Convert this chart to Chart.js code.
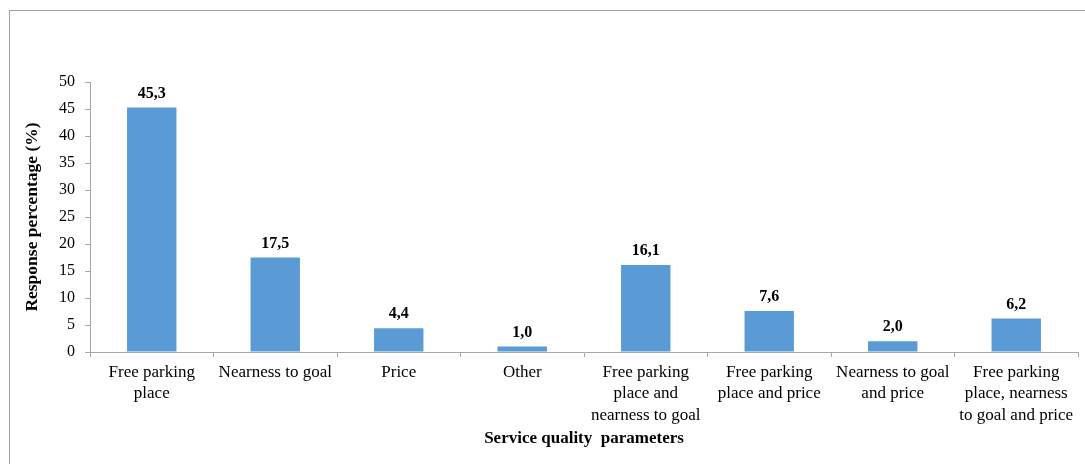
<!DOCTYPE html>
<html>
<head>
<meta charset="utf-8">
<script src="https://cdn.jsdelivr.net/npm/chart.js@4.4.1/dist/chart.umd.min.js"></script>
<style>
  html, body { margin: 0; padding: 0; background: #fff; overflow: hidden; width: 1085px; height: 464px; }
  #frame { position: absolute; left: 9px; top: 10px; width: 2000px; height: 2000px; border-left: 1px solid #a0a0a0; border-top: 1px solid #a0a0a0; }
  #wrap { position: absolute; left: 0; top: 0; width: 1085px; height: 464px; }
</style>
</head>
<body>
<div id="frame"></div>
<div id="wrap"><canvas id="c" width="1085" height="464"></canvas></div>
<script>
const categories = [
  ["Free parking", "place"],
  "Nearness to goal",
  "Price",
  "Other",
  ["Free parking", "place and", "nearness to goal"],
  ["Free parking", "place and price"],
  ["Nearness to goal", "and price"],
  ["Free parking", "place, nearness", "to goal and price"]
];
const responsePercent = [45.3, 17.5, 4.4, 1.0, 16.1, 7.6, 2.0, 6.2];
const yTickMin = 0;
const yTickMax = 50;
const yTickStep = 5;
const xTitle = "Service quality  parameters";
const yTitle = "Response percentage (%)";

const serif = "'Liberation Serif', 'Times New Roman', serif";
const axisColor = '#a6a6a6';

const valueLabels = {
  id: 'valueLabels',
  afterDatasetsDraw(chart) {
    const ctx = chart.ctx;
    const meta = chart.getDatasetMeta(0);
    ctx.save();
    ctx.font = "bold 16px " + serif;
    ctx.fillStyle = '#000';
    ctx.textAlign = 'center';
    ctx.textBaseline = 'bottom';
    meta.data.forEach((bar, i) => {
      const v = chart.data.datasets[0].data[i];
      ctx.fillText(v.toFixed(1).replace('.', ','), bar.x, bar.y - 6);
    });
    ctx.restore();
  }
};

new Chart(document.getElementById('c'), {
  type: 'bar',
  data: {
    labels: categories,
    datasets: [{
      data: responsePercent,
      backgroundColor: '#5B9BD5',
      borderWidth: 0,
      barPercentage: 0.4,
      categoryPercentage: 1.0
    }]
  },
  options: {
    responsive: false,
    animation: false,
    devicePixelRatio: 1,
    layout: { padding: { top: 82, right: 7, left: 0, bottom: 0 } },
    plugins: { legend: { display: false }, tooltip: { enabled: false } },
    scales: {
      x: {
        grid: { display: true, drawOnChartArea: false, drawTicks: true, tickLength: 5, color: axisColor, offset: true },
        border: { display: true, color: axisColor },
        ticks: { color: '#000', font: { family: serif, size: 17, lineHeight: 1.25 }, padding: 5, maxRotation: 0, autoSkip: false },
        title: { display: true, text: xTitle, color: '#000', font: { family: serif, size: 17, weight: 'bold' }, padding: { top: 4, bottom: 15 } },
        afterFit(scale) { scale.height = 112; }
      },
      y: {
        min: yTickMin,
        max: yTickMax,
        grid: { display: true, drawOnChartArea: false, drawTicks: true, tickLength: 5, color: axisColor },
        border: { display: true, color: axisColor },
        ticks: { stepSize: yTickStep, color: '#000', font: { family: serif, size: 16 }, padding: 10 },
        title: { display: true, text: yTitle, color: '#000', font: { family: serif, size: 17.5, weight: 'bold' }, padding: { top: 22, bottom: 0 } },
        afterFit(scale) { scale.width = 90; }
      }
    }
  },
  plugins: [valueLabels]
});
</script>
</body>
</html>
